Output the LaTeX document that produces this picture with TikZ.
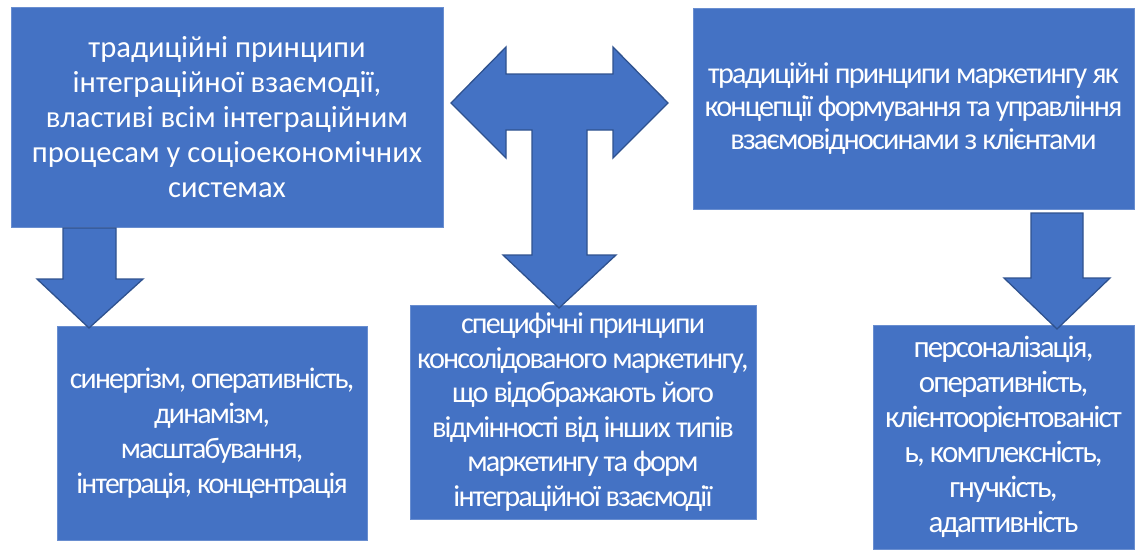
\documentclass[tikz,border=0pt]{standalone}
\usepackage{fontspec}
\setmainfont{Carlito}
\newfontfamily\tightfont[LetterSpace=-6]{Carlito}
\usepackage{tikz}
\definecolor{boxblue}{HTML}{4472C4}
\definecolor{edgeblue}{HTML}{2F528F}

\begin{document}
\begin{tikzpicture}[
  x=1pt, y=-1pt,
  box/.style={
    rectangle, fill=boxblue, draw=boxblue!80!white, line width=0.8pt,
    inner sep=0pt, text=white, align=center,
    font=\fontsize{29}{35}\selectfont
  },
  blockarrow/.style={
    fill=boxblue, draw=edgeblue, line width=1.3pt, line join=miter
  }
]
  \useasboundingbox (0,0) rectangle (1136,550);
  % top row
  \node[box, minimum width=432pt, minimum height=220pt,
    font=\fontsize{30.6}{35}\selectfont] (trad) at (227,117)
    {традиційні принципи\\інтеграційної взаємодії,\\властиві всім інтеграційним\\процесам у соціоекономічних\\системах};
  \node[box, minimum width=441pt, minimum height=201pt,
    font=\fontsize{30.2}{33}\selectfont] (tradmkt) at (913.5,109)
    {\tightfont традиційні принципи маркетингу як\\\tightfont концепції формування та управління\\\tightfont взаємовідносинами з клієнтами};
  % bottom row
  \node[box, minimum width=310pt, minimum height=214pt,
    font=\fontsize{29.8}{35}\selectfont] (integ) at (212,433)
    {\tightfont синергізм, оперативність,\\\tightfont динамізм,\\\tightfont масштабування,\\\tightfont інтеграція, концентрація};
  \node[box, minimum width=346pt, minimum height=214pt,
    font=\fontsize{30.2}{34.5}\selectfont] (spec) at (583,412)
    {\tightfont специфічні принципи\\\tightfont консолідованого маркетингу,\\\tightfont що відображають його\\\tightfont відмінності від інших типів\\\tightfont маркетингу та форм\\\tightfont інтеграційної взаємодії};
  \node[box, minimum width=261pt, minimum height=224pt,
    font=\fontsize{31}{35}\selectfont] (client) at (1003.5,437)
    {\tightfont персоналізація,\\\tightfont оперативність,\\\tightfont клієнтоорієнтованіст\\\tightfont ь, комплексність,\\\tightfont гнучкість,\\\tightfont адаптивність};
  % arrows
  \draw[blockarrow] (63,228) -- (116,228) -- (116,279) -- (143,279) -- (89,328)
    -- (37,279) -- (63,279) -- cycle;
  \draw[blockarrow] (1031,213) -- (1083,213) -- (1083,278) -- (1110,278) -- (1057,329)
    -- (1004,278) -- (1031,278) -- cycle;
  \draw[blockarrow] (451,103) -- (506,47) -- (506,74) -- (613,74) -- (613,47)
    -- (668,103) -- (613,158) -- (613,130) -- (587,130) -- (587,255) -- (616,255)
    -- (559,308) -- (503,255) -- (532,255) -- (532,130) -- (506,130) -- (506,158) -- cycle;
\end{tikzpicture}
\end{document}
